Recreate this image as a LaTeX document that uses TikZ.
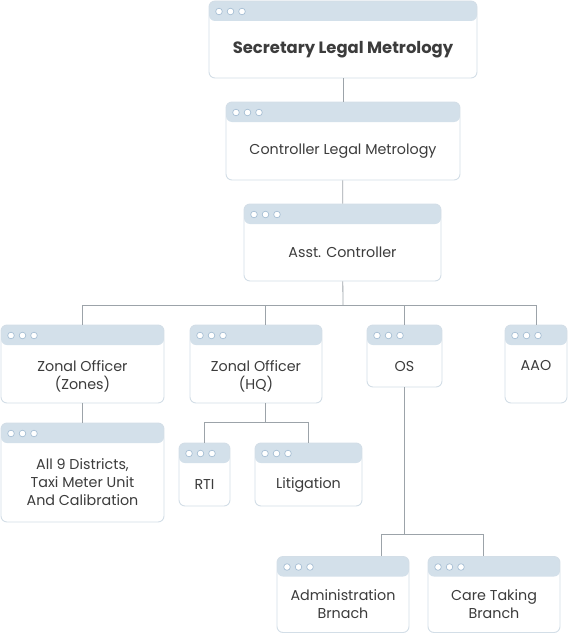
\documentclass[tikz,border=0pt]{standalone}
\usepackage{fontspec}
\setmainfont{Poppins}
\usepackage{tikz}
\usetikzlibrary{calc}
\definecolor{Edge}{HTML}{D3DEE7}
\definecolor{Head}{HTML}{D3E0EA}
\definecolor{Dot}{HTML}{A7BFD4}
\definecolor{Ink}{HTML}{3C3C3C}
\definecolor{Wire}{HTML}{9CA3A9}

\begin{document}
\begin{tikzpicture}[
  x=1pt,y=-1pt,
  every node/.style={font=\fontsize{14.3}{18}\selectfont,text=Ink},
  winboxs/.style 2 args={draw=Edge,fill=white,rounded corners=6pt,line width=0.9pt,inner sep=0pt,
    path picture={
      \fill[Head] (path picture bounding box.north west) rectangle ([yshift=-20pt]path picture bounding box.north east);
      \foreach \dx in {10,21.5,33}
        \draw[Dot,fill=white,line width=0.7pt] ([xshift=\dx pt,yshift=-10.5pt]path picture bounding box.north west) circle (3.3pt);
    },
    label={[boxtext,yshift=#2]center:{#1}}},
  winbox/.style={winboxs={#1}{0pt}},
  boxtext/.style={align=center,yshift=-10pt,font=\fontsize{14.3}{18}\selectfont},
  link/.style={draw=Wire,line width=0.8pt}
]
\useasboundingbox (0,0) rectangle (569,634);
% top chain
\node[winbox={\fontsize{16.4}{18}\selectfont\bfseries Secretary Legal Metrology},minimum width=268pt,minimum height=77pt] (sec) at (343,39.5) {};
\node[winbox={Controller Legal Metrology},minimum width=234pt,minimum height=78pt] (ctl) at (343,141) {};
\node[winbox={Asst. Controller},minimum width=197pt,minimum height=77pt] (asst) at (342.5,242.5) {};
% second row
\node[winboxs={Zonal Officer\\(Zones)}{-2pt},minimum width=163pt,minimum height=78pt] (zon) at (82.5,364) {};
\node[winboxs={Zonal Officer\\(HQ)}{-2pt},minimum width=132pt,minimum height=78pt] (hq) at (256,364) {};
\node[winbox={OS},minimum width=75pt,minimum height=62pt] (os) at (404.5,356) {};
\node[winboxs={AAO}{8pt},minimum width=62pt,minimum height=78pt] (aao) at (536,364) {};
% lower rows
\node[winbox={All 9 Districts,\\Taxi Meter Unit\\And Calibration},minimum width=163pt,minimum height=99pt] (dist) at (82.5,472.5) {};
\node[winbox={RTI},minimum width=51pt,minimum height=63pt] (rti) at (204.5,474.5) {};
\node[winbox={Litigation},minimum width=107pt,minimum height=63pt] (lit) at (308.5,474.5) {};
\node[winbox={Administration\\Brnach},minimum width=132pt,minimum height=76pt] (adm) at (343,594.5) {};
\node[winbox={Care Taking\\Branch},minimum width=132pt,minimum height=76pt] (care) at (494,594.5) {};

\draw[link] (sec) -- (ctl);
\draw[link] (ctl) -- (asst);
\coordinate (bus) at (343,305);
\draw[link] (asst) -- (bus);
\draw[link] (zon.north) -- (zon.north |- bus) -- (bus -| aao.north) -- (aao.north);
\draw[link] ([xshift=9.5pt]hq.north) -- ([xshift=9.5pt]hq.north |- bus);
\draw[link] (os.north) -- (os.north |- bus);
\draw[link] (zon) -- (dist);
% HQ branch
\coordinate (hqbus) at (265.5,422);
\draw[link] ([xshift=9.5pt]hq.south) -- (hqbus);
\draw[link] (rti.north) -- (rti.north |- hqbus) -- (hqbus -| lit.north) -- (lit.north);
% OS branch
\coordinate (osbus) at (404.5,534);
\draw[link] (os) -- (osbus);
\draw[link] ([xshift=38pt]adm.north) -- ([xshift=38pt]adm.north |- osbus) -- ([xshift=-11pt]care.north |- osbus) -- ([xshift=-11pt]care.north);
\end{tikzpicture}
\end{document}
